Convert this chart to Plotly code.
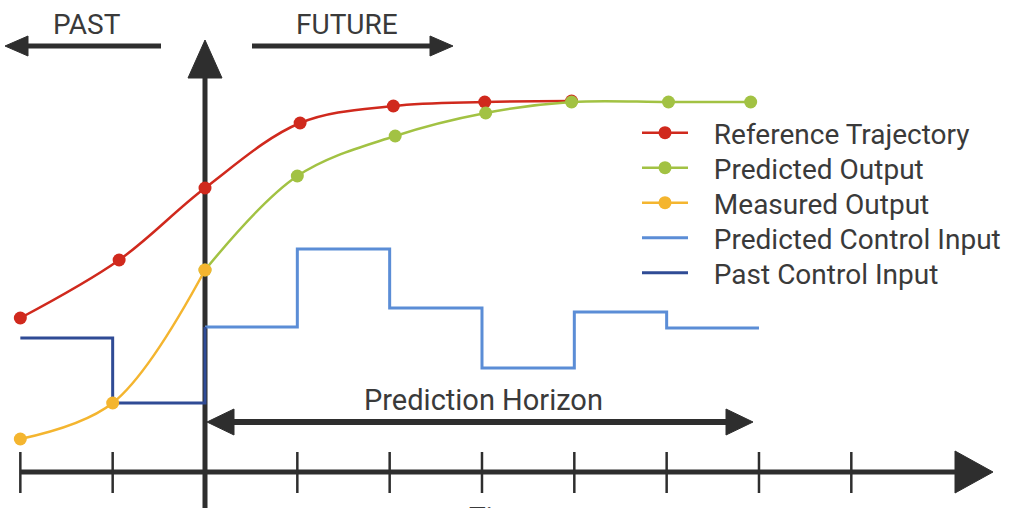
import plotly.graph_objects as go

# ---------------- data (time step k, output value) ----------------
ref_t = [-2.0, -0.93, 0.0, 1.03, 2.04, 3.03, 3.97]
ref_y = [1.54, 2.12, 2.84, 3.49, 3.66, 3.70, 3.71]

pred_t = [0.0, 1.0, 2.06, 3.04, 3.97, 5.02, 5.91]
pred_y = [2.02, 2.96, 3.36, 3.59, 3.70, 3.70, 3.70]

meas_t = [-2.0, -1.0, 0.0]
meas_y = [0.33, 0.69, 2.02]

pci_t = [0, 1, 2, 3, 4, 5, 6]
pci_y = [1.45, 2.23, 1.64, 1.04, 1.60, 1.44, 1.44]

past_t = [-2, -1, 0]
past_y = [1.34, 0.69, 1.45]

tick_steps = list(range(-2, 8))

# ---------------- styling ----------------
RED = "#d0291d"
GREEN = "#a2c243"
YELLOW = "#f4b52f"
LBLUE = "#5b8dd6"
DBLUE = "#2f4b95"
AX = "#2e2e2e"
TXT = "#3a3a3a"
FONT = "Roboto"
GAP = "\u00a0\u00a0\u00a0"  # spacing between legend symbol and label

W, H = 1021, 508
PX0, PXK = 205.0, 92.33   # pixel of k=0 and pixels per step
PY0, PYU = 472.0, 100.0   # pixel of y=0 and pixels per unit


def X(px):
    return (px - PX0) / PXK


def Y(py):
    return (PY0 - py) / PYU


fig = go.Figure()

fig.add_trace(go.Scatter(x=pci_t, y=pci_y, mode="lines", line=dict(color=LBLUE, width=3, shape="hv"),
                         name=GAP + "Predicted Control Input", legend="legend4"))
fig.add_trace(go.Scatter(x=past_t, y=past_y, mode="lines", line=dict(color=DBLUE, width=3, shape="hv"),
                         name=GAP + "Past Control Input", legend="legend5"))
fig.add_trace(go.Scatter(x=ref_t, y=ref_y, mode="lines+markers",
                         line=dict(color=RED, width=2.5, shape="spline", smoothing=1.0),
                         marker=dict(color=RED, size=13), name=GAP + "Reference Trajectory", legend="legend"))
fig.add_trace(go.Scatter(x=pred_t, y=pred_y, mode="lines+markers",
                         line=dict(color=GREEN, width=2.5, shape="spline", smoothing=1.0),
                         marker=dict(color=GREEN, size=13), name=GAP + "Predicted Output", legend="legend2"))
fig.add_trace(go.Scatter(x=meas_t, y=meas_y, mode="lines+markers",
                         line=dict(color=YELLOW, width=2.5, shape="spline", smoothing=1.0),
                         marker=dict(color=YELLOW, size=13), name=GAP + "Measured Output", legend="legend3"))

shapes = []


def line(x0, y0, x1, y1, w):
    shapes.append(dict(type="line", xref="x", yref="y", x0=X(x0), y0=Y(y0), x1=X(x1), y1=Y(y1),
                       line=dict(color=AX, width=w), layer="below"))


def tri(pts):
    path = "M " + " L ".join(f"{X(a):.4f},{Y(b):.4f}" for a, b in pts) + " Z"
    shapes.append(dict(type="path", xref="x", yref="y", path=path, fillcolor=AX,
                       line=dict(color=AX, width=1), layer="below"))


# time axis
line(21, 472, 960, 472, 5)
tri([(993, 472), (955, 451), (955, 493)])
for k in tick_steps:
    px = PX0 + k * PXK
    line(px, 452, px, 493, 2.5)
# vertical axis
line(205, 510, 205, 75, 5)
tri([(205, 40), (188, 78), (222, 78)])
# PAST / FUTURE arrows
line(24, 46, 161, 46, 5)
tri([(5, 46), (28, 36), (28, 56)])
line(252, 46, 434, 46, 5)
tri([(453, 46), (430, 36), (430, 56)])
# Prediction horizon
line(228, 422, 732, 422, 6)
tri([(207, 422), (234, 409), (234, 435)])
tri([(753, 422), (726, 409), (726, 435)])

annotations = [
    dict(x=X(87), y=Y(24), text="PAST", showarrow=False, font=dict(family=FONT, size=28, color=TXT)),
    dict(x=X(347), y=Y(24), text="FUTURE", showarrow=False, font=dict(family=FONT, size=28, color=TXT)),
    dict(x=X(483), y=Y(400), text="Prediction Horizon", showarrow=False,
         font=dict(family=FONT, size=29, color=TXT)),
    dict(x=X(500), y=Y(499), text="Time", showarrow=False, yanchor="top",
         font=dict(family=FONT, size=28, color=TXT)),
]

legend_rows = [133, 168, 203, 238, 273]
legend_names = ["legend", "legend2", "legend3", "legend4", "legend5"]
leg_layout = {}
for name, row in zip(legend_names, legend_rows):
    leg_layout[name] = dict(x=637 / W, y=1 - row / H, xanchor="left", yanchor="middle",
                            bgcolor="rgba(0,0,0,0)", font=dict(family=FONT, size=28, color=TXT),
                            itemwidth=46)

fig.update_layout(
    width=W, height=H, autosize=False,
    margin=dict(l=0, r=0, t=0, b=0),
    paper_bgcolor="white", plot_bgcolor="white",
    xaxis=dict(range=[X(0), X(W)], visible=False, fixedrange=True),
    yaxis=dict(range=[Y(H), Y(0)], visible=False, fixedrange=True),
    shapes=shapes, annotations=annotations,
    showlegend=True,
    **leg_layout,
)

fig.write_html("out.html", config={"displayModeBar": False},
               post_script="document.body.style.margin='0px';")
